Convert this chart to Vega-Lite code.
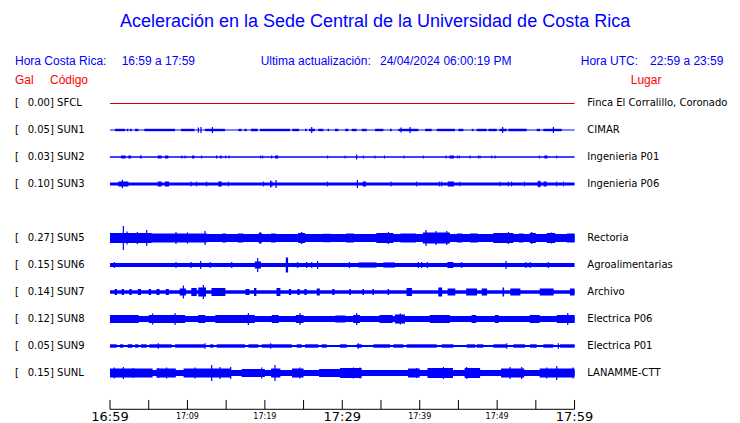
{
  "$schema": "https://vega.github.io/schema/vega-lite/v6.json",
  "width": 740,
  "height": 423,
  "autosize": "none",
  "padding": 0,
  "background": "white",
  "config": {"view": {"stroke": null}},
  "data": {"values": [{}]},
  "datasets": {
    "flat": [{"s": "SFCL", "t": 0, "t2": 60, "y": 0}],
    "bands": [
      {"s": "SUN1", "t": 0, "t2": 60, "lo": 0.978, "hi": 1.022},
      {"s": "SUN2", "t": 0, "t2": 60, "lo": 1.976, "hi": 2.024},
      {"s": "SUN3", "t": 0, "t2": 60, "lo": 2.941, "hi": 3.059},
      {"s": "SUN5", "t": 0, "t2": 60, "lo": 4.856, "hi": 5.144},
      {"s": "SUN6", "t": 0, "t2": 60, "lo": 5.926, "hi": 6.074},
      {"s": "SUN7", "t": 0, "t2": 60, "lo": 6.933, "hi": 7.067},
      {"s": "SUN8", "t": 0, "t2": 60, "lo": 7.893, "hi": 8.107},
      {"s": "SUN9", "t": 0, "t2": 60, "lo": 8.967, "hi": 9.033},
      {"s": "SUNL", "t": 0, "t2": 60, "lo": 9.893, "hi": 10.107}
    ],
    "bursts": [
      {"t": 0.65, "t2": 1.94, "lo": 0.956, "hi": 1.044},
      {"t": 2.15, "t2": 2.37, "lo": 0.956, "hi": 1.044},
      {"t": 2.58, "t2": 2.8, "lo": 0.956, "hi": 1.044},
      {"t": 3.23, "t2": 3.66, "lo": 0.956, "hi": 1.044},
      {"t": 4.43, "t2": 8.4, "lo": 0.956, "hi": 1.044},
      {"t": 9.17, "t2": 10.9, "lo": 0.956, "hi": 1.044},
      {"t": 12.27, "t2": 14.85, "lo": 0.956, "hi": 1.044},
      {"t": 16.58, "t2": 17.0, "lo": 0.956, "hi": 1.044},
      {"t": 17.35, "t2": 17.65, "lo": 0.956, "hi": 1.044},
      {"t": 18.2, "t2": 19.07, "lo": 0.956, "hi": 1.044},
      {"t": 19.37, "t2": 23.25, "lo": 0.956, "hi": 1.044},
      {"t": 23.55, "t2": 24.41, "lo": 0.956, "hi": 1.044},
      {"t": 25.19, "t2": 25.4, "lo": 0.956, "hi": 1.044},
      {"t": 25.7, "t2": 26.48, "lo": 0.956, "hi": 1.044},
      {"t": 26.9, "t2": 27.56, "lo": 0.956, "hi": 1.044},
      {"t": 28.1, "t2": 28.3, "lo": 0.956, "hi": 1.044},
      {"t": 29.06, "t2": 29.49, "lo": 0.956, "hi": 1.044},
      {"t": 30.36, "t2": 30.79, "lo": 0.956, "hi": 1.044},
      {"t": 31.22, "t2": 31.86, "lo": 0.956, "hi": 1.044},
      {"t": 32.51, "t2": 33.15, "lo": 0.956, "hi": 1.044},
      {"t": 34.23, "t2": 35.31, "lo": 0.956, "hi": 1.044},
      {"t": 36.17, "t2": 36.38, "lo": 0.956, "hi": 1.044},
      {"t": 37.24, "t2": 39.83, "lo": 0.956, "hi": 1.044},
      {"t": 40.69, "t2": 41.55, "lo": 0.956, "hi": 1.044},
      {"t": 42.2, "t2": 44.56, "lo": 0.956, "hi": 1.044},
      {"t": 44.99, "t2": 45.64, "lo": 0.956, "hi": 1.044},
      {"t": 46.72, "t2": 46.93, "lo": 0.956, "hi": 1.044},
      {"t": 47.36, "t2": 48.65, "lo": 0.956, "hi": 1.044},
      {"t": 48.87, "t2": 49.95, "lo": 0.956, "hi": 1.044},
      {"t": 50.3, "t2": 51.24, "lo": 0.956, "hi": 1.044},
      {"t": 51.45, "t2": 53.82, "lo": 0.956, "hi": 1.044},
      {"t": 55.11, "t2": 55.54, "lo": 0.956, "hi": 1.044},
      {"t": 55.97, "t2": 58.34, "lo": 0.956, "hi": 1.044},

      {"t": 1.42, "t2": 2.02, "lo": 1.944, "hi": 2.056},
      {"t": 2.37, "t2": 2.71, "lo": 1.944, "hi": 2.056},
      {"t": 3.87, "t2": 4.09, "lo": 1.944, "hi": 2.056},
      {"t": 6.16, "t2": 6.67, "lo": 1.944, "hi": 2.056},
      {"t": 7.1, "t2": 7.53, "lo": 1.944, "hi": 2.056},
      {"t": 9.2, "t2": 9.35, "lo": 1.944, "hi": 2.056},
      {"t": 9.62, "t2": 9.76, "lo": 1.944, "hi": 2.056},
      {"t": 10.6, "t2": 10.9, "lo": 1.944, "hi": 2.056},
      {"t": 11.78, "t2": 11.9, "lo": 1.944, "hi": 2.056},
      {"t": 13.7, "t2": 13.86, "lo": 1.944, "hi": 2.056},
      {"t": 14.2, "t2": 14.42, "lo": 1.944, "hi": 2.056},
      {"t": 14.88, "t2": 15.0, "lo": 1.944, "hi": 2.056},
      {"t": 15.3, "t2": 15.43, "lo": 1.944, "hi": 2.056},
      {"t": 19.4, "t2": 19.52, "lo": 1.944, "hi": 2.056},
      {"t": 19.66, "t2": 19.78, "lo": 1.944, "hi": 2.056},
      {"t": 20.8, "t2": 20.95, "lo": 1.944, "hi": 2.056},
      {"t": 21.31, "t2": 21.74, "lo": 1.944, "hi": 2.056},
      {"t": 28.05, "t2": 28.17, "lo": 1.944, "hi": 2.056},
      {"t": 30.3, "t2": 30.42, "lo": 1.944, "hi": 2.056},
      {"t": 32.66, "t2": 32.78, "lo": 1.944, "hi": 2.056},
      {"t": 34.17, "t2": 34.29, "lo": 1.944, "hi": 2.056},
      {"t": 35.38, "t2": 35.5, "lo": 1.944, "hi": 2.056},
      {"t": 37.92, "t2": 38.04, "lo": 1.944, "hi": 2.056},
      {"t": 40.41, "t2": 40.53, "lo": 1.944, "hi": 2.056},
      {"t": 43.34, "t2": 43.46, "lo": 1.944, "hi": 2.056},
      {"t": 43.83, "t2": 44.43, "lo": 1.944, "hi": 2.056},
      {"t": 44.81, "t2": 44.93, "lo": 1.944, "hi": 2.056},
      {"t": 45.06, "t2": 45.18, "lo": 1.944, "hi": 2.056},
      {"t": 46.44, "t2": 46.56, "lo": 1.944, "hi": 2.056},
      {"t": 47.52, "t2": 47.64, "lo": 1.944, "hi": 2.056},
      {"t": 47.73, "t2": 47.85, "lo": 1.944, "hi": 2.056},
      {"t": 49.24, "t2": 49.36, "lo": 1.944, "hi": 2.056},
      {"t": 49.67, "t2": 49.79, "lo": 1.944, "hi": 2.056},
      {"t": 55.4, "t2": 55.52, "lo": 1.944, "hi": 2.056},
      {"t": 56.1, "t2": 56.5, "lo": 1.944, "hi": 2.056},
      {"t": 57.64, "t2": 57.76, "lo": 1.944, "hi": 2.056},

      {"t": 1.08, "t2": 2.37, "lo": 2.907, "hi": 3.093},
      {"t": 6.16, "t2": 6.67, "lo": 2.907, "hi": 3.093},
      {"t": 7.1, "t2": 7.62, "lo": 2.907, "hi": 3.093},
      {"t": 10.4, "t2": 10.52, "lo": 2.907, "hi": 3.093},
      {"t": 11.13, "t2": 11.25, "lo": 2.907, "hi": 3.093},
      {"t": 12.43, "t2": 12.55, "lo": 2.907, "hi": 3.093},
      {"t": 13.99, "t2": 14.42, "lo": 2.907, "hi": 3.093},
      {"t": 15.22, "t2": 15.34, "lo": 2.907, "hi": 3.093},
      {"t": 19.74, "t2": 19.86, "lo": 2.907, "hi": 3.093},
      {"t": 20.75, "t2": 21.0, "lo": 2.907, "hi": 3.093},
      {"t": 28.01, "t2": 28.13, "lo": 2.907, "hi": 3.093},
      {"t": 32.64, "t2": 33.07, "lo": 2.907, "hi": 3.093},
      {"t": 36.24, "t2": 36.36, "lo": 2.907, "hi": 3.093},
      {"t": 39.55, "t2": 39.67, "lo": 2.907, "hi": 3.093},
      {"t": 42.48, "t2": 42.6, "lo": 2.907, "hi": 3.093},
      {"t": 42.78, "t2": 42.9, "lo": 2.907, "hi": 3.093},
      {"t": 43.62, "t2": 44.43, "lo": 2.907, "hi": 3.093},
      {"t": 45.15, "t2": 45.27, "lo": 2.907, "hi": 3.093},
      {"t": 50.32, "t2": 50.44, "lo": 2.907, "hi": 3.093},
      {"t": 51.39, "t2": 51.51, "lo": 2.907, "hi": 3.093},
      {"t": 51.82, "t2": 51.94, "lo": 2.907, "hi": 3.093},
      {"t": 53.46, "t2": 53.58, "lo": 2.907, "hi": 3.093},
      {"t": 55.2, "t2": 55.7, "lo": 2.907, "hi": 3.093},
      {"t": 56.0, "t2": 56.4, "lo": 2.907, "hi": 3.093},
      {"t": 57.64, "t2": 57.76, "lo": 2.907, "hi": 3.093},
      {"t": 58.5, "t2": 58.62, "lo": 2.907, "hi": 3.093},

      {"t": 0, "t2": 5.4, "lo": 4.815, "hi": 5.185},
      {"t": 5.4, "t2": 12.5, "lo": 4.833, "hi": 5.167},
      {"t": 14.5, "t2": 15.0, "lo": 4.833, "hi": 5.167},
      {"t": 16.5, "t2": 17.2, "lo": 4.833, "hi": 5.167},
      {"t": 19.2, "t2": 19.6, "lo": 4.815, "hi": 5.185},
      {"t": 20.8, "t2": 21.4, "lo": 4.833, "hi": 5.167},
      {"t": 24.3, "t2": 25.2, "lo": 4.815, "hi": 5.185},
      {"t": 27.5, "t2": 28.5, "lo": 4.844, "hi": 5.156},
      {"t": 30.5, "t2": 31.5, "lo": 4.833, "hi": 5.167},
      {"t": 34.4, "t2": 36.6, "lo": 4.815, "hi": 5.185},
      {"t": 37.5, "t2": 39.5, "lo": 4.833, "hi": 5.167},
      {"t": 40.4, "t2": 43.9, "lo": 4.796, "hi": 5.204},
      {"t": 44.8, "t2": 45.5, "lo": 4.833, "hi": 5.167},
      {"t": 46.5, "t2": 47.5, "lo": 4.833, "hi": 5.167},
      {"t": 49.5, "t2": 52.1, "lo": 4.815, "hi": 5.185},
      {"t": 52.8, "t2": 53.4, "lo": 4.833, "hi": 5.167},
      {"t": 54.2, "t2": 55.0, "lo": 4.815, "hi": 5.185},
      {"t": 56.4, "t2": 57.5, "lo": 4.815, "hi": 5.185},
      {"t": 59.0, "t2": 60.0, "lo": 4.833, "hi": 5.167},

      {"t": 18.7, "t2": 19.5, "lo": 5.87, "hi": 6.13},
      {"t": 22.7, "t2": 23.0, "lo": 5.722, "hi": 6.278},
      {"t": 32.1, "t2": 34.4, "lo": 5.904, "hi": 6.096},
      {"t": 35.3, "t2": 36.8, "lo": 5.904, "hi": 6.096},
      {"t": 43.57, "t2": 44.35, "lo": 5.889, "hi": 6.111},

      {"t": 0.6, "t2": 0.9, "lo": 6.889, "hi": 7.111},
      {"t": 1.5, "t2": 1.8, "lo": 6.889, "hi": 7.111},
      {"t": 2.5, "t2": 2.8, "lo": 6.889, "hi": 7.111},
      {"t": 3.6, "t2": 4.0, "lo": 6.889, "hi": 7.111},
      {"t": 5.0, "t2": 5.3, "lo": 6.889, "hi": 7.111},
      {"t": 6.0, "t2": 6.4, "lo": 6.889, "hi": 7.111},
      {"t": 7.2, "t2": 7.6, "lo": 6.889, "hi": 7.111},
      {"t": 17.5, "t2": 18.0, "lo": 6.889, "hi": 7.111},
      {"t": 23.1, "t2": 23.4, "lo": 6.889, "hi": 7.111},
      {"t": 24.2, "t2": 24.5, "lo": 6.889, "hi": 7.111},
      {"t": 25.1, "t2": 25.4, "lo": 6.889, "hi": 7.111},
      {"t": 28.7, "t2": 29.0, "lo": 6.889, "hi": 7.111},
      {"t": 30.9, "t2": 31.1, "lo": 6.889, "hi": 7.111},
      {"t": 32.6, "t2": 32.8, "lo": 6.889, "hi": 7.111},
      {"t": 33.9, "t2": 34.1, "lo": 6.889, "hi": 7.111},
      {"t": 35.85, "t2": 36.05, "lo": 6.889, "hi": 7.111},
      {"t": 9.0, "t2": 9.8, "lo": 6.87, "hi": 7.13},
      {"t": 26.7, "t2": 27.1, "lo": 6.87, "hi": 7.13},
      {"t": 43.6, "t2": 44.6, "lo": 6.87, "hi": 7.13},
      {"t": 46.0, "t2": 47.4, "lo": 6.87, "hi": 7.13},
      {"t": 48.0, "t2": 48.7, "lo": 6.87, "hi": 7.13},
      {"t": 51.7, "t2": 53.0, "lo": 6.87, "hi": 7.13},
      {"t": 55.5, "t2": 57.3, "lo": 6.87, "hi": 7.13},
      {"t": 59.4, "t2": 60.0, "lo": 6.87, "hi": 7.13},
      {"t": 10.5, "t2": 11.2, "lo": 6.852, "hi": 7.148},
      {"t": 13.1, "t2": 14.9, "lo": 6.852, "hi": 7.148},
      {"t": 18.6, "t2": 18.9, "lo": 6.852, "hi": 7.148},
      {"t": 21.5, "t2": 22.0, "lo": 6.852, "hi": 7.148},
      {"t": 38.3, "t2": 39.0, "lo": 6.852, "hi": 7.148},
      {"t": 11.4, "t2": 12.4, "lo": 6.833, "hi": 7.167},
      {"t": 42.4, "t2": 42.9, "lo": 6.833, "hi": 7.167},
      {"t": 50.7, "t2": 50.9, "lo": 6.833, "hi": 7.167},

      {"t": 0, "t2": 3.7, "lo": 7.852, "hi": 8.148},
      {"t": 5.0, "t2": 9.7, "lo": 7.852, "hi": 8.148},
      {"t": 11.4, "t2": 12.3, "lo": 7.852, "hi": 8.148},
      {"t": 13.6, "t2": 18.7, "lo": 7.852, "hi": 8.148},
      {"t": 20.9, "t2": 21.8, "lo": 7.852, "hi": 8.148},
      {"t": 24.0, "t2": 25.0, "lo": 7.852, "hi": 8.148},
      {"t": 29.1, "t2": 30.4, "lo": 7.87, "hi": 8.13},
      {"t": 31.4, "t2": 32.3, "lo": 7.852, "hi": 8.148},
      {"t": 34.8, "t2": 36.5, "lo": 7.852, "hi": 8.148},
      {"t": 36.8, "t2": 38.1, "lo": 7.833, "hi": 8.167},
      {"t": 41.3, "t2": 43.9, "lo": 7.852, "hi": 8.148},
      {"t": 46.7, "t2": 47.3, "lo": 7.852, "hi": 8.148},
      {"t": 49.7, "t2": 50.2, "lo": 7.852, "hi": 8.148},
      {"t": 54.2, "t2": 55.5, "lo": 7.852, "hi": 8.148},
      {"t": 57.7, "t2": 60.0, "lo": 7.852, "hi": 8.148},

      {"t": 0, "t2": 0.86, "lo": 8.937, "hi": 9.063},
      {"t": 1.29, "t2": 1.72, "lo": 8.937, "hi": 9.063},
      {"t": 2.28, "t2": 2.88, "lo": 8.937, "hi": 9.063},
      {"t": 3.23, "t2": 3.66, "lo": 8.937, "hi": 9.063},
      {"t": 4.0, "t2": 4.74, "lo": 8.937, "hi": 9.063},
      {"t": 5.08, "t2": 7.97, "lo": 8.937, "hi": 9.063},
      {"t": 8.4, "t2": 12.27, "lo": 8.937, "hi": 9.063},
      {"t": 12.92, "t2": 13.35, "lo": 8.937, "hi": 9.063},
      {"t": 13.78, "t2": 17.44, "lo": 8.937, "hi": 9.063},
      {"t": 17.87, "t2": 19.16, "lo": 8.937, "hi": 9.063},
      {"t": 19.59, "t2": 23.47, "lo": 8.937, "hi": 9.063},
      {"t": 24.11, "t2": 24.76, "lo": 8.937, "hi": 9.063},
      {"t": 25.19, "t2": 26.91, "lo": 8.937, "hi": 9.063},
      {"t": 27.34, "t2": 27.99, "lo": 8.937, "hi": 9.063},
      {"t": 29.71, "t2": 30.57, "lo": 8.937, "hi": 9.063},
      {"t": 31.86, "t2": 32.51, "lo": 8.937, "hi": 9.063},
      {"t": 34.02, "t2": 36.17, "lo": 8.937, "hi": 9.063},
      {"t": 36.6, "t2": 37.89, "lo": 8.937, "hi": 9.063},
      {"t": 38.32, "t2": 42.2, "lo": 8.937, "hi": 9.063},
      {"t": 42.84, "t2": 44.35, "lo": 8.937, "hi": 9.063},
      {"t": 46.07, "t2": 47.15, "lo": 8.937, "hi": 9.063},
      {"t": 47.36, "t2": 48.22, "lo": 8.937, "hi": 9.063},
      {"t": 49.52, "t2": 51.24, "lo": 8.937, "hi": 9.063},
      {"t": 52.1, "t2": 53.6, "lo": 8.937, "hi": 9.063},
      {"t": 54.25, "t2": 55.11, "lo": 8.937, "hi": 9.063},
      {"t": 55.97, "t2": 57.27, "lo": 8.937, "hi": 9.063},
      {"t": 58.13, "t2": 60.0, "lo": 8.937, "hi": 9.063},

      {"t": 0, "t2": 5.5, "lo": 9.833, "hi": 10.167},
      {"t": 6.0, "t2": 8.5, "lo": 9.833, "hi": 10.167},
      {"t": 9.5, "t2": 15.6, "lo": 9.833, "hi": 10.167},
      {"t": 17.0, "t2": 20.0, "lo": 9.852, "hi": 10.148},
      {"t": 20.8, "t2": 22.0, "lo": 9.833, "hi": 10.167},
      {"t": 23.5, "t2": 25.0, "lo": 9.833, "hi": 10.167},
      {"t": 27.0, "t2": 29.7, "lo": 9.852, "hi": 10.148},
      {"t": 29.7, "t2": 32.5, "lo": 9.815, "hi": 10.185},
      {"t": 38.5, "t2": 40.0, "lo": 9.833, "hi": 10.167},
      {"t": 41.0, "t2": 44.3, "lo": 9.815, "hi": 10.185},
      {"t": 45.8, "t2": 47.8, "lo": 9.815, "hi": 10.185},
      {"t": 50.5, "t2": 53.5, "lo": 9.833, "hi": 10.167},
      {"t": 55.5, "t2": 60.0, "lo": 9.833, "hi": 10.167}
    ],
    "spikes": [
      {"t": 11.75, "lo": 0.889, "hi": 1.111},
      {"t": 13.22, "lo": 0.889, "hi": 1.111},
      {"t": 26.05, "lo": 0.889, "hi": 1.111},
      {"t": 38.75, "lo": 0.889, "hi": 1.111},
      {"t": 50.72, "lo": 0.889, "hi": 1.111},
      {"t": 57.27, "lo": 0.889, "hi": 1.111},
      {"t": 11.41, "lo": 0.907, "hi": 1.093},
      {"t": 37.59, "lo": 0.907, "hi": 1.093},
      {"t": 31.86, "lo": 1.907, "hi": 2.093},
      {"t": 1.59, "lo": 2.84, "hi": 3.16},
      {"t": 20.75, "lo": 2.87, "hi": 3.13},
      {"t": 21.44, "lo": 2.852, "hi": 3.148},
      {"t": 31.95, "lo": 2.852, "hi": 3.148},
      {"t": 55.41, "lo": 2.87, "hi": 3.13},
      {"t": 1.72, "lo": 4.556, "hi": 5.444},
      {"t": 2.2, "lo": 4.759, "hi": 5.241},
      {"t": 3.53, "lo": 4.778, "hi": 5.222},
      {"t": 4.74, "lo": 4.704, "hi": 5.296},
      {"t": 8.52, "lo": 4.778, "hi": 5.222},
      {"t": 10.0, "lo": 4.796, "hi": 5.204},
      {"t": 12.27, "lo": 4.741, "hi": 5.259},
      {"t": 19.4, "lo": 4.778, "hi": 5.222},
      {"t": 24.76, "lo": 4.778, "hi": 5.222},
      {"t": 35.95, "lo": 4.778, "hi": 5.222},
      {"t": 40.82, "lo": 4.704, "hi": 5.296},
      {"t": 42.1, "lo": 4.741, "hi": 5.259},
      {"t": 43.5, "lo": 4.741, "hi": 5.259},
      {"t": 51.45, "lo": 4.778, "hi": 5.222},
      {"t": 54.47, "lo": 4.778, "hi": 5.222},
      {"t": 57.0, "lo": 4.796, "hi": 5.204},
      {"t": 0.56, "lo": 5.889, "hi": 6.111},
      {"t": 8.52, "lo": 5.889, "hi": 6.111},
      {"t": 10.46, "lo": 5.889, "hi": 6.111},
      {"t": 12.92, "lo": 5.889, "hi": 6.111},
      {"t": 15.72, "lo": 5.889, "hi": 6.111},
      {"t": 24.24, "lo": 5.889, "hi": 6.111},
      {"t": 25.4, "lo": 5.889, "hi": 6.111},
      {"t": 26.05, "lo": 5.889, "hi": 6.111},
      {"t": 30.92, "lo": 5.889, "hi": 6.111},
      {"t": 39.83, "lo": 5.889, "hi": 6.111},
      {"t": 40.26, "lo": 5.889, "hi": 6.111},
      {"t": 40.99, "lo": 5.889, "hi": 6.111},
      {"t": 45.43, "lo": 5.889, "hi": 6.111},
      {"t": 53.73, "lo": 5.889, "hi": 6.111},
      {"t": 54.25, "lo": 5.889, "hi": 6.111},
      {"t": 56.62, "lo": 5.889, "hi": 6.111},
      {"t": 11.71, "lo": 5.852, "hi": 6.148},
      {"t": 26.82, "lo": 5.852, "hi": 6.148},
      {"t": 51.15, "lo": 5.852, "hi": 6.148},
      {"t": 19.07, "lo": 5.741, "hi": 6.259},
      {"t": 9.47, "lo": 6.759, "hi": 7.241},
      {"t": 12.06, "lo": 6.741, "hi": 7.259},
      {"t": 8.4, "lo": 7.778, "hi": 8.222},
      {"t": 17.87, "lo": 7.778, "hi": 8.222},
      {"t": 24.54, "lo": 7.778, "hi": 8.222},
      {"t": 31.86, "lo": 7.778, "hi": 8.222},
      {"t": 59.12, "lo": 7.778, "hi": 8.222},
      {"t": 37.5, "lo": 7.796, "hi": 8.204},
      {"t": 5.5, "lo": 7.796, "hi": 8.204},
      {"t": 6.24, "lo": 8.9, "hi": 9.1},
      {"t": 12.27, "lo": 8.9, "hi": 9.1},
      {"t": 20.75, "lo": 8.9, "hi": 9.1},
      {"t": 32.08, "lo": 8.9, "hi": 9.1},
      {"t": 51.24, "lo": 8.9, "hi": 9.1},
      {"t": 57.91, "lo": 8.9, "hi": 9.1},
      {"t": 0.56, "lo": 9.796, "hi": 10.204},
      {"t": 1.72, "lo": 9.778, "hi": 10.222},
      {"t": 3.0, "lo": 9.815, "hi": 10.185},
      {"t": 6.24, "lo": 9.815, "hi": 10.185},
      {"t": 7.3, "lo": 9.796, "hi": 10.204},
      {"t": 10.98, "lo": 9.796, "hi": 10.204},
      {"t": 13.13, "lo": 9.704, "hi": 10.296},
      {"t": 14.2, "lo": 9.778, "hi": 10.222},
      {"t": 15.59, "lo": 9.778, "hi": 10.222},
      {"t": 19.59, "lo": 9.796, "hi": 10.204},
      {"t": 21.31, "lo": 9.704, "hi": 10.296},
      {"t": 24.5, "lo": 9.796, "hi": 10.204},
      {"t": 31.43, "lo": 9.796, "hi": 10.204},
      {"t": 32.29, "lo": 9.796, "hi": 10.204},
      {"t": 39.61, "lo": 9.815, "hi": 10.185},
      {"t": 43.06, "lo": 9.778, "hi": 10.222},
      {"t": 46.07, "lo": 9.778, "hi": 10.222},
      {"t": 51.67, "lo": 9.778, "hi": 10.222},
      {"t": 53.17, "lo": 9.778, "hi": 10.222},
      {"t": 56.41, "lo": 9.796, "hi": 10.204},
      {"t": 57.7, "lo": 9.741, "hi": 10.259},
      {"t": 59.8, "lo": 9.796, "hi": 10.204}
    ],
    "stations": [
      {"k": 0, "lab": "0.00] SFCL", "place": "Finca El Corralillo, Coronado"},
      {"k": 1, "lab": "0.05] SUN1", "place": "CIMAR"},
      {"k": 2, "lab": "0.03] SUN2", "place": "Ingenieria P01"},
      {"k": 3, "lab": "0.10] SUN3", "place": "Ingenieria P06"},
      {"k": 5, "lab": "0.27] SUN5", "place": "Rectoria"},
      {"k": 6, "lab": "0.15] SUN6", "place": "Agroalimentarias"},
      {"k": 7, "lab": "0.14] SUN7", "place": "Archivo"},
      {"k": 8, "lab": "0.12] SUN8", "place": "Electrica P06"},
      {"k": 9, "lab": "0.05] SUN9", "place": "Electrica P01"},
      {"k": 10, "lab": "0.15] SUNL", "place": "LANAMME-CTT"}
    ],
    "ticks": [{"t": 0}, {"t": 5}, {"t": 10}, {"t": 15}, {"t": 20}, {"t": 25}, {"t": 30}, {"t": 35}, {"t": 40}, {"t": 45}, {"t": 50}, {"t": 55}, {"t": 60}],
    "major": [{"t": 0, "lab": "16:59"}, {"t": 30, "lab": "17:29"}, {"t": 60, "lab": "17:59"}],
    "minor": [{"t": 10, "lab": "17:09"}, {"t": 20, "lab": "17:19"}, {"t": 40, "lab": "17:39"}, {"t": 50, "lab": "17:49"}]
  },
  "layer": [
    {
      "data": {"name": "flat"},
      "mark": {"type": "rule", "color": "#cc0000", "strokeWidth": 1, "yOffset": 0.5},
      "encoding": {
        "x": {"field": "t", "type": "quantitative", "scale": {"domain": [-14.21, 81.37], "nice": false, "zero": false}, "axis": null},
        "x2": {"field": "t2"},
        "y": {"field": "y", "type": "quantitative", "scale": {"domain": [-3.815, 11.852], "reverse": true, "nice": false, "zero": false}, "axis": null}
      }
    },
    {
      "data": {"name": "bands"},
      "mark": {"type": "rect", "color": "#0000ff"},
      "encoding": {
        "x": {"field": "t", "type": "quantitative", "scale": {"domain": [-14.21, 81.37], "nice": false, "zero": false}, "axis": null},
        "x2": {"field": "t2"},
        "y": {"field": "lo", "type": "quantitative", "scale": {"domain": [-3.815, 11.852], "reverse": true, "nice": false, "zero": false}, "axis": null},
        "y2": {"field": "hi"}
      }
    },
    {
      "data": {"name": "bursts"},
      "mark": {"type": "rect", "color": "#0000ff"},
      "encoding": {
        "x": {"field": "t", "type": "quantitative", "scale": {"domain": [-14.21, 81.37], "nice": false, "zero": false}, "axis": null},
        "x2": {"field": "t2"},
        "y": {"field": "lo", "type": "quantitative", "scale": {"domain": [-3.815, 11.852], "reverse": true, "nice": false, "zero": false}, "axis": null},
        "y2": {"field": "hi"}
      }
    },
    {
      "data": {"name": "spikes"},
      "mark": {"type": "rule", "color": "#0000ff", "strokeWidth": 1.2},
      "encoding": {
        "x": {"field": "t", "type": "quantitative", "scale": {"domain": [-14.21, 81.37], "nice": false, "zero": false}, "axis": null},
        "y": {"field": "lo", "type": "quantitative", "scale": {"domain": [-3.815, 11.852], "reverse": true, "nice": false, "zero": false}, "axis": null},
        "y2": {"field": "hi"}
      }
    },
    {
      "data": {"name": "stations"},
      "mark": {"type": "text", "text": "[", "align": "left", "baseline": "middle", "font": "DejaVu Sans", "fontSize": 10, "color": "black"},
      "encoding": {
        "x": {"datum": -12.27, "type": "quantitative", "scale": {"domain": [-14.21, 81.37], "nice": false, "zero": false}, "axis": null},
        "y": {"field": "k", "type": "quantitative", "scale": {"domain": [-3.815, 11.852], "reverse": true, "nice": false, "zero": false}, "axis": null}
      }
    },
    {
      "data": {"name": "stations"},
      "mark": {"type": "text", "align": "left", "baseline": "middle", "font": "DejaVu Sans", "fontSize": 10, "color": "black"},
      "encoding": {
        "x": {"datum": -10.63, "type": "quantitative", "scale": {"domain": [-14.21, 81.37], "nice": false, "zero": false}, "axis": null},
        "y": {"field": "k", "type": "quantitative", "scale": {"domain": [-3.815, 11.852], "reverse": true, "nice": false, "zero": false}, "axis": null},
        "text": {"field": "lab"}
      }
    },
    {
      "data": {"name": "stations"},
      "mark": {"type": "text", "align": "left", "baseline": "middle", "font": "DejaVu Sans", "fontSize": 10, "color": "black"},
      "encoding": {
        "x": {"datum": 61.65, "type": "quantitative", "scale": {"domain": [-14.21, 81.37], "nice": false, "zero": false}, "axis": null},
        "y": {"field": "k", "type": "quantitative", "scale": {"domain": [-3.815, 11.852], "reverse": true, "nice": false, "zero": false}, "axis": null},
        "text": {"field": "place"}
      }
    },
    {
      "data": {"name": "ticks"},
      "mark": {"type": "rule", "color": "black", "strokeWidth": 1},
      "encoding": {
        "x": {"field": "t", "type": "quantitative", "scale": {"domain": [-14.21, 81.37], "nice": false, "zero": false}, "axis": null},
        "y": {"datum": 11.0, "type": "quantitative", "scale": {"domain": [-3.815, 11.852], "reverse": true, "nice": false, "zero": false}, "axis": null},
        "y2": {"datum": 11.344}
      }
    },
    {
      "mark": {"type": "rule", "color": "black", "strokeWidth": 1},
      "encoding": {
        "x": {"datum": 0, "type": "quantitative", "scale": {"domain": [-14.21, 81.37], "nice": false, "zero": false}, "axis": null},
        "x2": {"datum": 60},
        "y": {"datum": 11.344, "type": "quantitative", "scale": {"domain": [-3.815, 11.852], "reverse": true, "nice": false, "zero": false}, "axis": null}
      }
    },
    {
      "data": {"name": "major"},
      "mark": {"type": "text", "align": "center", "baseline": "alphabetic", "font": "DejaVu Sans", "fontSize": 13, "letterSpacing": 0.6, "color": "black"},
      "encoding": {
        "x": {"field": "t", "type": "quantitative", "scale": {"domain": [-14.21, 81.37], "nice": false, "zero": false}, "axis": null},
        "y": {"datum": 11.767, "type": "quantitative", "scale": {"domain": [-3.815, 11.852], "reverse": true, "nice": false, "zero": false}, "axis": null},
        "text": {"field": "lab"}
      }
    },
    {
      "data": {"name": "minor"},
      "mark": {"type": "text", "align": "center", "baseline": "alphabetic", "font": "DejaVu Sans", "fontSize": 8, "color": "black"},
      "encoding": {
        "x": {"field": "t", "type": "quantitative", "scale": {"domain": [-14.21, 81.37], "nice": false, "zero": false}, "axis": null},
        "y": {"datum": 11.704, "type": "quantitative", "scale": {"domain": [-3.815, 11.852], "reverse": true, "nice": false, "zero": false}, "axis": null},
        "text": {"field": "lab"}
      }
    },
    {
      "mark": {"type": "text", "text": "Aceleración en la Sede Central de la Universidad de Costa Rica", "align": "center", "baseline": "middle", "font": "Liberation Sans", "fontSize": 18, "color": "#0000ff"},
      "encoding": {
        "x": {"datum": 34.23, "type": "quantitative", "scale": {"domain": [-14.21, 81.37], "nice": false, "zero": false}, "axis": null},
        "y": {"datum": -3.0, "type": "quantitative", "scale": {"domain": [-3.815, 11.852], "reverse": true, "nice": false, "zero": false}, "axis": null}
      }
    },
    {
      "mark": {"type": "text", "text": "Hora Costa Rica:", "align": "left", "baseline": "middle", "font": "Liberation Sans", "fontSize": 12, "color": "#0000ff"},
      "encoding": {
        "x": {"datum": -12.27, "type": "quantitative", "scale": {"domain": [-14.21, 81.37], "nice": false, "zero": false}, "axis": null},
        "y": {"datum": -1.556, "type": "quantitative", "scale": {"domain": [-3.815, 11.852], "reverse": true, "nice": false, "zero": false}, "axis": null}
      }
    },
    {
      "mark": {"type": "text", "text": "16:59 a 17:59", "align": "left", "baseline": "middle", "font": "Liberation Sans", "fontSize": 12, "color": "#0000ff"},
      "encoding": {
        "x": {"datum": 1.5, "type": "quantitative", "scale": {"domain": [-14.21, 81.37], "nice": false, "zero": false}, "axis": null},
        "y": {"datum": -1.556, "type": "quantitative", "scale": {"domain": [-3.815, 11.852], "reverse": true, "nice": false, "zero": false}, "axis": null}
      }
    },
    {
      "mark": {"type": "text", "text": "Ultima actualización:", "align": "left", "baseline": "middle", "font": "Liberation Sans", "fontSize": 12, "color": "#0000ff"},
      "encoding": {
        "x": {"datum": 19.46, "type": "quantitative", "scale": {"domain": [-14.21, 81.37], "nice": false, "zero": false}, "axis": null},
        "y": {"datum": -1.556, "type": "quantitative", "scale": {"domain": [-3.815, 11.852], "reverse": true, "nice": false, "zero": false}, "axis": null}
      }
    },
    {
      "mark": {"type": "text", "text": "24/04/2024 06:00:19 PM", "align": "left", "baseline": "middle", "font": "Liberation Sans", "fontSize": 12, "color": "#0000ff"},
      "encoding": {
        "x": {"datum": 34.87, "type": "quantitative", "scale": {"domain": [-14.21, 81.37], "nice": false, "zero": false}, "axis": null},
        "y": {"datum": -1.556, "type": "quantitative", "scale": {"domain": [-3.815, 11.852], "reverse": true, "nice": false, "zero": false}, "axis": null}
      }
    },
    {
      "mark": {"type": "text", "text": "Hora UTC:", "align": "left", "baseline": "middle", "font": "Liberation Sans", "fontSize": 12, "color": "#0000ff"},
      "encoding": {
        "x": {"datum": 60.8, "type": "quantitative", "scale": {"domain": [-14.21, 81.37], "nice": false, "zero": false}, "axis": null},
        "y": {"datum": -1.556, "type": "quantitative", "scale": {"domain": [-3.815, 11.852], "reverse": true, "nice": false, "zero": false}, "axis": null}
      }
    },
    {
      "mark": {"type": "text", "text": "22:59 a 23:59", "align": "left", "baseline": "middle", "font": "Liberation Sans", "fontSize": 12, "color": "#0000ff"},
      "encoding": {
        "x": {"datum": 69.75, "type": "quantitative", "scale": {"domain": [-14.21, 81.37], "nice": false, "zero": false}, "axis": null},
        "y": {"datum": -1.556, "type": "quantitative", "scale": {"domain": [-3.815, 11.852], "reverse": true, "nice": false, "zero": false}, "axis": null}
      }
    },
    {
      "mark": {"type": "text", "text": "Gal", "align": "left", "baseline": "middle", "font": "Liberation Sans", "fontSize": 12, "color": "#ff0000"},
      "encoding": {
        "x": {"datum": -12.27, "type": "quantitative", "scale": {"domain": [-14.21, 81.37], "nice": false, "zero": false}, "axis": null},
        "y": {"datum": -0.852, "type": "quantitative", "scale": {"domain": [-3.815, 11.852], "reverse": true, "nice": false, "zero": false}, "axis": null}
      }
    },
    {
      "mark": {"type": "text", "text": "Código", "align": "left", "baseline": "middle", "font": "Liberation Sans", "fontSize": 12, "color": "#ff0000"},
      "encoding": {
        "x": {"datum": -7.75, "type": "quantitative", "scale": {"domain": [-14.21, 81.37], "nice": false, "zero": false}, "axis": null},
        "y": {"datum": -0.852, "type": "quantitative", "scale": {"domain": [-3.815, 11.852], "reverse": true, "nice": false, "zero": false}, "axis": null}
      }
    },
    {
      "mark": {"type": "text", "text": "Lugar", "align": "left", "baseline": "middle", "font": "Liberation Sans", "fontSize": 12, "color": "#ff0000"},
      "encoding": {
        "x": {"datum": 67.26, "type": "quantitative", "scale": {"domain": [-14.21, 81.37], "nice": false, "zero": false}, "axis": null},
        "y": {"datum": -0.852, "type": "quantitative", "scale": {"domain": [-3.815, 11.852], "reverse": true, "nice": false, "zero": false}, "axis": null}
      }
    }
  ]
}
